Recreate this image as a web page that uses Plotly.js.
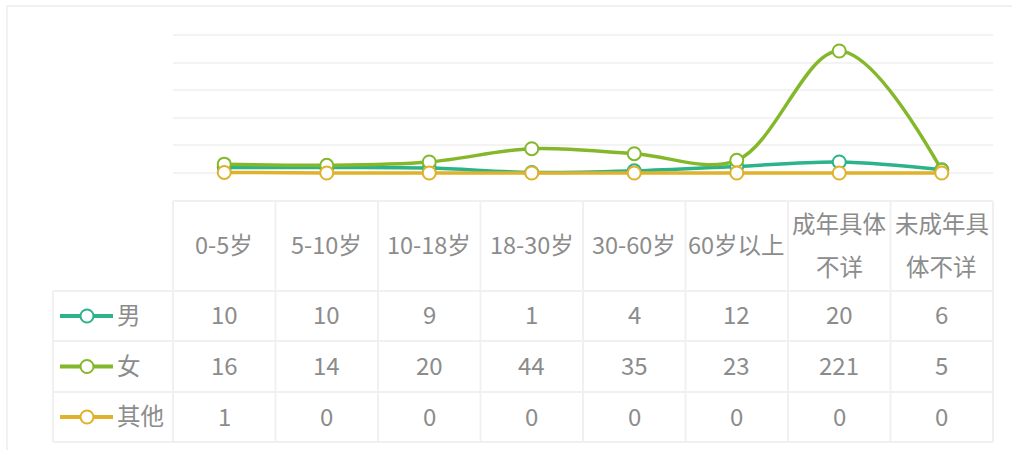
<!DOCTYPE html>
<html><head><meta charset="utf-8">
<script src="https://cdn.plot.ly/plotly-3.0.1.min.js"></script>
<style>html,body{margin:0;padding:0;background:#fff}#chart{width:1012px;height:450px}</style>
</head><body><div id="chart"></div>
<script>
const categories = ['0-5岁','5-10岁','10-18岁','18-30岁','30-60岁','60岁以上','成年具体不详','未成年具体不详'];
const headerLabels = ['0-5岁','5-10岁','10-18岁','18-30岁','30-60岁','60岁以上','成年具体<br>不详','未成年具<br>体不详'];
const seriesNames = ['男','女','其他'];
const male = [10,10,9,1,4,12,20,6];
const female = [16,14,20,44,35,23,221,5];
const other = [1,0,0,0,0,0,0,0];
const seriesValues = [male, female, other];
const colors = ['#2bb48a','#84b82a','#e0b12a'];

const W = 1012, H = 450;
const L = 173, R = 993, T = 31, B = 442;
const px = p => (p - L) / (R - L);
const py = p => (B - p) / (B - T);
const FONT = '"Noto Sans CJK SC", "Noto Sans", sans-serif';
const TXT = '#8c8c8c';
const GRID = '#f3f3f3';
const FS = 24;
const TSHIFT = 2;

const traces = seriesNames.map((n, i) => ({
  type: 'scatter', mode: 'lines+markers', name: n,
  x: categories, y: seriesValues[i],
  line: {color: colors[i], width: 3.5, shape: 'spline', smoothing: 1},
  marker: {size: 13, color: '#ffffff', line: {color: colors[i], width: 2}},
  cliponaxis: false, hoverinfo: 'skip'
}));

const shapes = [];
const annotations = [];
// outer faint frame
shapes.push({type:'rect', xref:'paper', yref:'paper', x0:px(7), x1:px(1030), y0:py(6), y1:py(470),
  line:{color:'#f1f1f1', width:2}, fillcolor:'rgba(0,0,0,0)', layer:'below'});

// table geometry (pixels)
const headTop = 201, rowTops = [291, 341, 392], tableBottom = 442, labelLeft = 53;
const n = categories.length;
const lineStyle = {color:'#f0f0f0', width:2};
shapes.push({type:'line', xref:'paper', yref:'paper', x0:0, x1:1, y0:py(headTop), y1:py(headTop), line:lineStyle});
rowTops.concat([tableBottom]).forEach(t => {
  shapes.push({type:'line', xref:'paper', yref:'paper', x0:px(labelLeft), x1:1, y0:py(t), y1:py(t), line:lineStyle});
});
for (let i = 0; i <= n; i++) {
  shapes.push({type:'line', xref:'paper', yref:'paper', x0:i/n, x1:i/n, y0:py(headTop), y1:py(tableBottom), line:lineStyle});
}
shapes.push({type:'line', xref:'paper', yref:'paper', x0:px(labelLeft), x1:px(labelLeft), y0:py(rowTops[0]), y1:py(tableBottom), line:lineStyle});

// header labels
headerLabels.forEach((h, j) => {
  const parts = h.split('<br>');
  const ys = parts.length === 1 ? [246] : [225, 268];
  parts.forEach((p, k) => annotations.push({
    xref:'x', yref:'paper', x:categories[j], y:py(ys[k]), yshift:TSHIFT, text:p, showarrow:false,
    xanchor:'center', yanchor:'middle', font:{family:FONT, size:FS - 0.5, color:TXT}
  }));
});

// rows
seriesNames.forEach((s, i) => {
  const top = rowTops[i];
  const bot = i < rowTops.length - 1 ? rowTops[i+1] : tableBottom;
  const cy = (top + bot) / 2;
  shapes.push({type:'line', xref:'paper', yref:'paper', x0:px(60), x1:px(113), y0:py(cy), y1:py(cy),
    line:{color:colors[i], width:4}});
  shapes.push({type:'circle', xref:'paper', yref:'paper', x0:px(87-6.5), x1:px(87+6.5), y0:py(cy-6.5), y1:py(cy+6.5),
    line:{color:colors[i], width:2}, fillcolor:'#ffffff'});
  annotations.push({xref:'paper', yref:'paper', x:px(115), y:py(cy), yshift:TSHIFT, text:s, showarrow:false,
    xanchor:'left', yanchor:'middle', font:{family:FONT, size:FS - 0.5, color:TXT}});
  seriesValues[i].forEach((v, j) => annotations.push({
    xref:'x', yref:'paper', x:categories[j], y:py(cy), yshift:TSHIFT, text:String(v), showarrow:false,
    xanchor:'center', yanchor:'middle', font:{family:FONT, size:FS, color:TXT}
  }));
});

// y axis: value 250 at pixel 35, value 0 at pixel 173; domain from pixel 31 to 190
const pxPerUnit = (173 - 35) / 250;
const yMin = -(190 - 173) / pxPerUnit;
const yMax = 250 + (35 - T) / pxPerUnit;

const layout = {
  width: W, height: H,
  margin: {l: L, r: W - R, t: T, b: H - B},
  paper_bgcolor: '#ffffff', plot_bgcolor: 'rgba(0,0,0,0)',
  showlegend: false,
  xaxis: {type:'category', range:[-0.5, n - 0.5], showgrid:false, zeroline:false, showticklabels:false, showline:false, ticks:''},
  yaxis: {domain:[py(190), 1], range:[yMin, yMax], tick0:0, dtick:50, showgrid:true, gridcolor:GRID, gridwidth:2,
    zeroline:false, showticklabels:false, showline:false, ticks:''},
  shapes, annotations,
  font: {family: FONT}
};

Plotly.newPlot('chart', traces, layout, {displayModeBar:false, staticPlot:true});
</script>
</body></html>
